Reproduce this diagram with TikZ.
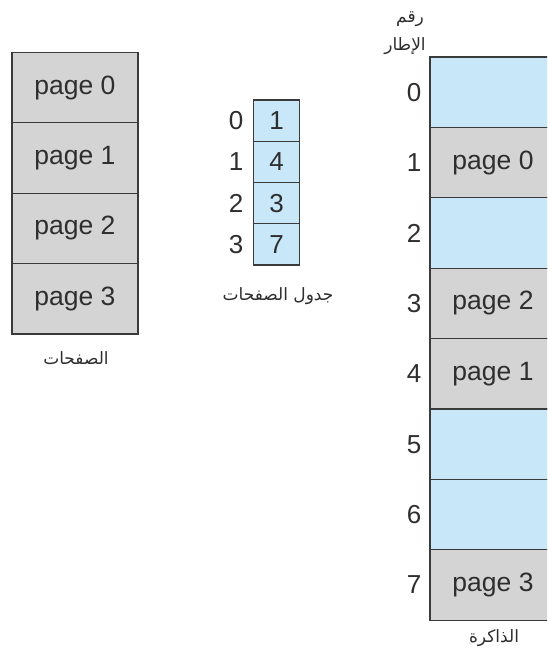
\documentclass[tikz,border=0pt]{standalone}
\usepackage{fontspec}
\setmainfont{Liberation Sans}
\newfontfamily\arabicfont[Script=Arabic]{DejaVu Sans}
\TeXXeTstate=1
\definecolor{cellgray}{HTML}{D4D4D4}
\definecolor{cellblue}{HTML}{C8E7F8}
\definecolor{edge}{HTML}{3A3A3A}
\definecolor{ink}{HTML}{2E2E2E}
\begin{document}
\begin{tikzpicture}[x=1pt,y=-1pt,
  cell/.style={draw=edge,line width=1.3pt,minimum width=126pt,minimum height=70.4pt,inner sep=0pt,outer sep=0pt,text=ink,font=\fontsize{26.5}{28}\selectfont},
  gcell/.style={cell,fill=cellgray},
  bcell/.style={cell,fill=cellblue},
  tcell/.style={draw=edge,line width=1.3pt,fill=cellblue,minimum width=46pt,minimum height=41.25pt,inner sep=0pt,outer sep=0pt,text=ink,font=\fontsize{26}{28}\selectfont},
  num/.style={text=ink,font=\fontsize{26}{28}\selectfont,inner sep=0pt},
  ar/.style={text=ink,font=\arabicfont\fontsize{17}{19}\selectfont,inner sep=0pt}]
\useasboundingbox (0,0) rectangle (547,654);
\clip (0,0) rectangle (547,654);
\fill[white] (0,0) rectangle (547,654);
% logical pages
\node[gcell] (p0) at (75,87.6) {page 0};
\node[gcell] (p1) at (75,158) {page 1};
\node[gcell] (p2) at (75,228.4) {page 2};
\node[gcell] (p3) at (75,298.8) {page 3};
\node[ar] (lpages) at (76,358) {\beginR الصفحات\endR};
% page table
\node[tcell] (t0) at (276.5,120.6) {1};
\node[tcell] (t1) at (276.5,161.9) {4};
\node[tcell] (t2) at (276.5,203.1) {3};
\node[tcell] (t3) at (276.5,244.4) {7};
\node[num] (i0) at (236,120.6) {0};
\node[num] (i1) at (236,161.9) {1};
\node[num] (i2) at (236,203.1) {2};
\node[num] (i3) at (236,244.4) {3};
\node[ar] (ltable) at (278,296) {\beginR جدول الصفحات\endR};
% physical memory
\node[bcell] (m0) at (493,92.2) {};
\node[gcell] (m1) at (493,162.6) {page 0};
\node[bcell] (m2) at (493,233.0) {};
\node[gcell] (m3) at (493,303.4) {page 2};
\node[gcell] (m4) at (493,373.8) {page 1};
\node[bcell] (m5) at (493,444.2) {};
\node[bcell] (m6) at (493,514.6) {};
\node[gcell] (m7) at (493,585.0) {page 3};
\foreach \k/\y in {0/92.2,1/162.6,2/233.0,3/303.4,4/373.8,5/444.2,6/514.6,7/585.0}
  \node[num] (f\k) at (414,\y) {\k};
\node[ar] (lframe1) at (410,19) {\beginR رقم\endR};
\node[ar] (lframe2) at (405,46) {\beginR الإطار\endR};
\node[ar] (lmem) at (494,638) {\beginR الذاكرة\endR};
\end{tikzpicture}
\end{document}
